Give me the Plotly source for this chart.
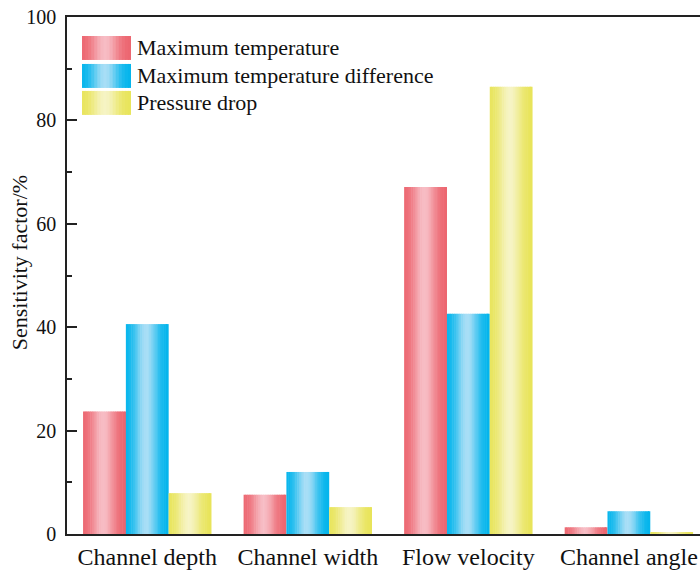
import numpy as np
import plotly.graph_objects as go

# Factor categories and sensitivity factors (%)
categories = ["Channel depth", "Channel width", "Flow velocity", "Channel angle"]
series_names = ["Maximum temperature", "Maximum temperature difference", "Pressure drop"]
max_temperature = [23.7, 7.6, 67.1, 1.3]
max_temp_difference = [40.6, 12.0, 42.6, 4.4]
pressure_drop = [7.9, 5.2, 86.5, 0.3]
y_ticks = [0, 20, 40, 60, 80, 100]

series_values = [max_temperature, max_temp_difference, pressure_drop]
# (edge colour, highlight colour) for the cylinder-like shading
series_colors = [
    ((236, 100, 110), (247, 188, 196)),
    ((0, 180, 236), (168, 222, 246)),
    ((232, 228, 88), (246, 244, 196)),
]

FONT = "Liberation Serif"
TEXT = "#111111"
N_SLICES = 24
GROUP = 0.8
BAR_W = GROUP / 3


def shade(edge, light, t):
    s = np.exp(-((t - 0.47) / 0.27) ** 2)
    c = [int(round(e + (l - e) * s)) for e, l in zip(edge, light)]
    return "rgb({},{},{})".format(*c)


fig = go.Figure()

for i, (name, vals, (edge, light)) in enumerate(zip(series_names, series_values, series_colors)):
    start = -GROUP / 2 + i * BAR_W
    sw = BAR_W / N_SLICES
    for k in range(N_SLICES):
        t = (k + 0.5) / N_SLICES
        off = start + k * sw
        width = min(sw * 1.3, start + BAR_W - off)
        fig.add_trace(go.Bar(
            x=categories, y=vals, width=width, offset=off,
            marker=dict(color=shade(edge, light, t), line=dict(width=0)),
            name=name, showlegend=False, hoverinfo="skip" if k else "y",
        ))

# Legend drawn as gradient swatches with text labels
PLOT_L, PLOT_R, PLOT_T, PLOT_B = 67, 700, 17, 534.5


def px_x(p):
    return (p - PLOT_L) / (PLOT_R - PLOT_L)


def px_y(p):
    return (PLOT_B - p) / (PLOT_B - PLOT_T)


shapes = []
annotations = []
sw_left, sw_right, sw_h = 82, 131, 24
row_centers = [48, 76, 103]
for name, (edge, light), yc in zip(series_names, series_colors, row_centers):
    n = 16
    step = (sw_right - sw_left) / n
    for k in range(n):
        t = (k + 0.5) / n
        x0 = sw_left + k * step
        x1 = min(x0 + step * 1.3, sw_right)
        shapes.append(dict(
            type="rect", xref="paper", yref="paper",
            x0=px_x(x0), x1=px_x(x1), y0=px_y(yc + sw_h / 2), y1=px_y(yc - sw_h / 2),
            fillcolor=shade(edge, light, t), line=dict(width=0), layer="above",
        ))
    annotations.append(dict(
        x=px_x(135), y=px_y(yc), xref="paper", yref="paper",
        text=name, showarrow=False, xanchor="left", yanchor="middle",
        font=dict(family=FONT, size=22, color=TEXT),
    ))

# Y-axis title
annotations.append(dict(
    x=px_x(19.5), y=px_y(263), xref="paper", yref="paper",
    text="Sensitivity factor/%", textangle=-90, showarrow=False,
    xanchor="center", yanchor="middle",
    font=dict(family=FONT, size=22, color=TEXT),
))

fig.update_layout(
    width=700, height=573,
    margin=dict(l=67, r=0, t=17, b=38.5),
    paper_bgcolor="white", plot_bgcolor="white",
    barmode="overlay",
    font=dict(family=FONT, size=20, color=TEXT),
    shapes=shapes, annotations=annotations,
    xaxis=dict(
        type="category", range=[-0.5, 3.443],
        showline=True, linecolor="#222222", linewidth=1.5, mirror=True,
        ticks="", showgrid=False, zeroline=False,
        tickfont=dict(family=FONT, size=24, color=TEXT),
    ),
    yaxis=dict(
        range=[0, 100], tickvals=y_ticks,
        showline=True, linecolor="#222222", linewidth=1.5, mirror=False,
        ticks="inside", ticklen=10, tickwidth=1.5, tickcolor="#222222",
        minor=dict(dtick=10, ticks="inside", ticklen=5, tickwidth=1.5, tickcolor="#222222"),
        showgrid=False, zeroline=False,
        ticklabelstandoff=5,
        tickfont=dict(family=FONT, size=20, color=TEXT),
    ),
)

fig.write_html("out.html")
